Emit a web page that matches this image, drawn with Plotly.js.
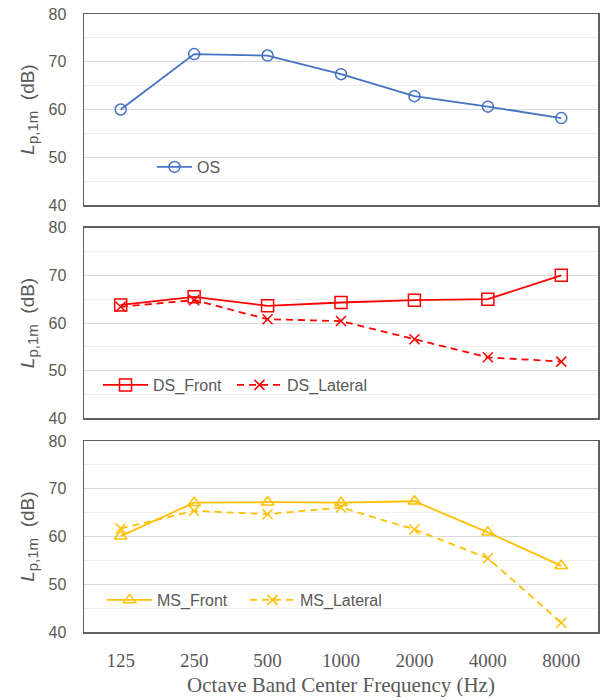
<!DOCTYPE html>
<html>
<head>
<meta charset="utf-8">
<script src="https://cdn.plot.ly/plotly-3.0.1.min.js"></script>
<style>html,body{margin:0;padding:0;background:#fff;}#chart{width:600px;height:700px;}</style>
</head>
<body>
<div id="chart"></div>
<script>
const freqs = ['125', '250', '500', '1000', '2000', '4000', '8000'];
const osVals = [60.0, 71.6, 71.3, 67.4, 62.8, 60.6, 58.2];
const dsFront = [63.8, 65.5, 63.6, 64.3, 64.8, 65.0, 70.0];
const dsLateral = [63.4, 64.8, 60.8, 60.4, 56.6, 52.8, 51.9];
const msFront = [60.1, 67.1, 67.2, 67.1, 67.4, 60.9, 53.9];
const msLateral = [61.7, 65.4, 64.7, 66.1, 61.5, 55.5, 42.0];
const yTicks = [40, 50, 60, 70, 80];

const BLUE = '#4472C4', RED = '#FF0000', GOLD = '#FFC000';
const gray = '#595959';

const traces = [
  {x: freqs, y: osVals, name: 'OS', xaxis: 'x', yaxis: 'y', legend: 'legend', mode: 'lines+markers',
   line: {color: BLUE, width: 1.8}, marker: {symbol: 'circle-open', size: 11, color: BLUE, line: {width: 1.5}}},
  {x: freqs, y: dsFront, name: 'DS_Front', xaxis: 'x2', yaxis: 'y2', legend: 'legend2', mode: 'lines+markers',
   line: {color: RED, width: 1.8}, marker: {symbol: 'square-open', size: 12, color: RED, line: {width: 1.5}}},
  {x: freqs, y: dsLateral, name: 'DS_Lateral', xaxis: 'x2', yaxis: 'y2', legend: 'legend3', mode: 'lines+markers',
   line: {color: RED, width: 1.8, dash: '7px,5px'}, marker: {symbol: 'x-thin-open', size: 10, color: RED, line: {width: 1.5, color: RED}}},
  {x: freqs, y: msFront, name: 'MS_Front', xaxis: 'x3', yaxis: 'y3', legend: 'legend4', mode: 'lines+markers',
   line: {color: GOLD, width: 1.8}, marker: {symbol: 'triangle-up-open', size: 11, color: GOLD, line: {width: 1.5}}},
  {x: freqs, y: msLateral, name: 'MS_Lateral', xaxis: 'x3', yaxis: 'y3', legend: 'legend5', mode: 'lines+markers',
   line: {color: GOLD, width: 1.8, dash: '7px,5px'}, marker: {symbol: 'x-thin-open', size: 10, color: GOLD, line: {width: 1.5, color: GOLD}}}
];

function xax(showLabels, anchor) {
  return {
    type: 'category', range: [-0.5, 6.5], domain: [84/600, 598/600], anchor: anchor,
    showgrid: false, zeroline: false, showline: true, mirror: true, linecolor: '#5f5f5f', linewidth: 1.5,
    showticklabels: showLabels, ticks: '',
    tickfont: {family: 'Liberation Serif, Times New Roman, serif', size: 19, color: gray},
    ticklabelstandoff: 10,
    fixedrange: true
  };
}
function yax(dom, anchor) {
  return {
    domain: dom, anchor: anchor, range: [40, 80], tickvals: yTicks, ticktext: yTicks.map(String),
    showgrid: true, gridcolor: '#d9d9d9', gridwidth: 1,
    minor: {tickvals: [45, 55, 65, 75], showgrid: true, gridcolor: '#efefef', gridwidth: 1, ticks: ''},
    zeroline: false, showline: true, mirror: true, linecolor: '#5f5f5f', linewidth: 1.5,
    ticks: '', ticklabelstandoff: 13,
    tickfont: {family: 'Liberation Sans, Arial, sans-serif', size: 16, color: gray},
    title: {text: '<i>L</i><sub><span style="font-size:15px">p,1m</span></sub>  (dB)', font: {family: 'Liberation Sans, Arial, sans-serif', size: 19, color: gray}, standoff: 9},
    fixedrange: true
  };
}

const legendBase = {
  orientation: 'h', xref: 'paper', yref: 'paper', xanchor: 'left', yanchor: 'middle',
  bgcolor: 'rgba(0,0,0,0)', borderwidth: 0,
  font: {family: 'Liberation Sans, Arial, sans-serif', size: 16, color: gray},
  itemwidth: 45, tracegroupgap: 0
};

const layout = {
  width: 600, height: 700,
  margin: {l: 0, r: 0, t: 0, b: 0},
  paper_bgcolor: '#ffffff', plot_bgcolor: '#ffffff',
  showlegend: true,
  xaxis: xax(false, 'y'),
  xaxis2: xax(false, 'y2'),
  xaxis3: Object.assign(xax(true, 'y3'), {
    title: {text: 'Octave Band Center Frequency (Hz)', font: {family: 'Liberation Serif, Times New Roman, serif', size: 21, color: gray}, standoff: 7}
  }),
  yaxis: yax([1 - 205/700, 1 - 14/700], 'x'),
  yaxis2: yax([1 - 418.3/700, 1 - 227.7/700], 'x2'),
  yaxis3: yax([1 - 632.3/700, 1 - 441/700], 'x3'),
  legend: Object.assign({}, legendBase, {x: 152/600, y: 1 - 167/700, itemwidth: 35}),
  legend2: Object.assign({}, legendBase, {x: 98/600, y: 1 - 385/700}),
  legend3: Object.assign({}, legendBase, {x: 232/600, y: 1 - 385/700}),
  legend4: Object.assign({}, legendBase, {x: 102/600, y: 1 - 600/700}),
  legend5: Object.assign({}, legendBase, {x: 245/600, y: 1 - 600/700})
};

Plotly.newPlot('chart', traces, layout, {staticPlot: true, displayModeBar: false});
</script>
</body>
</html>
